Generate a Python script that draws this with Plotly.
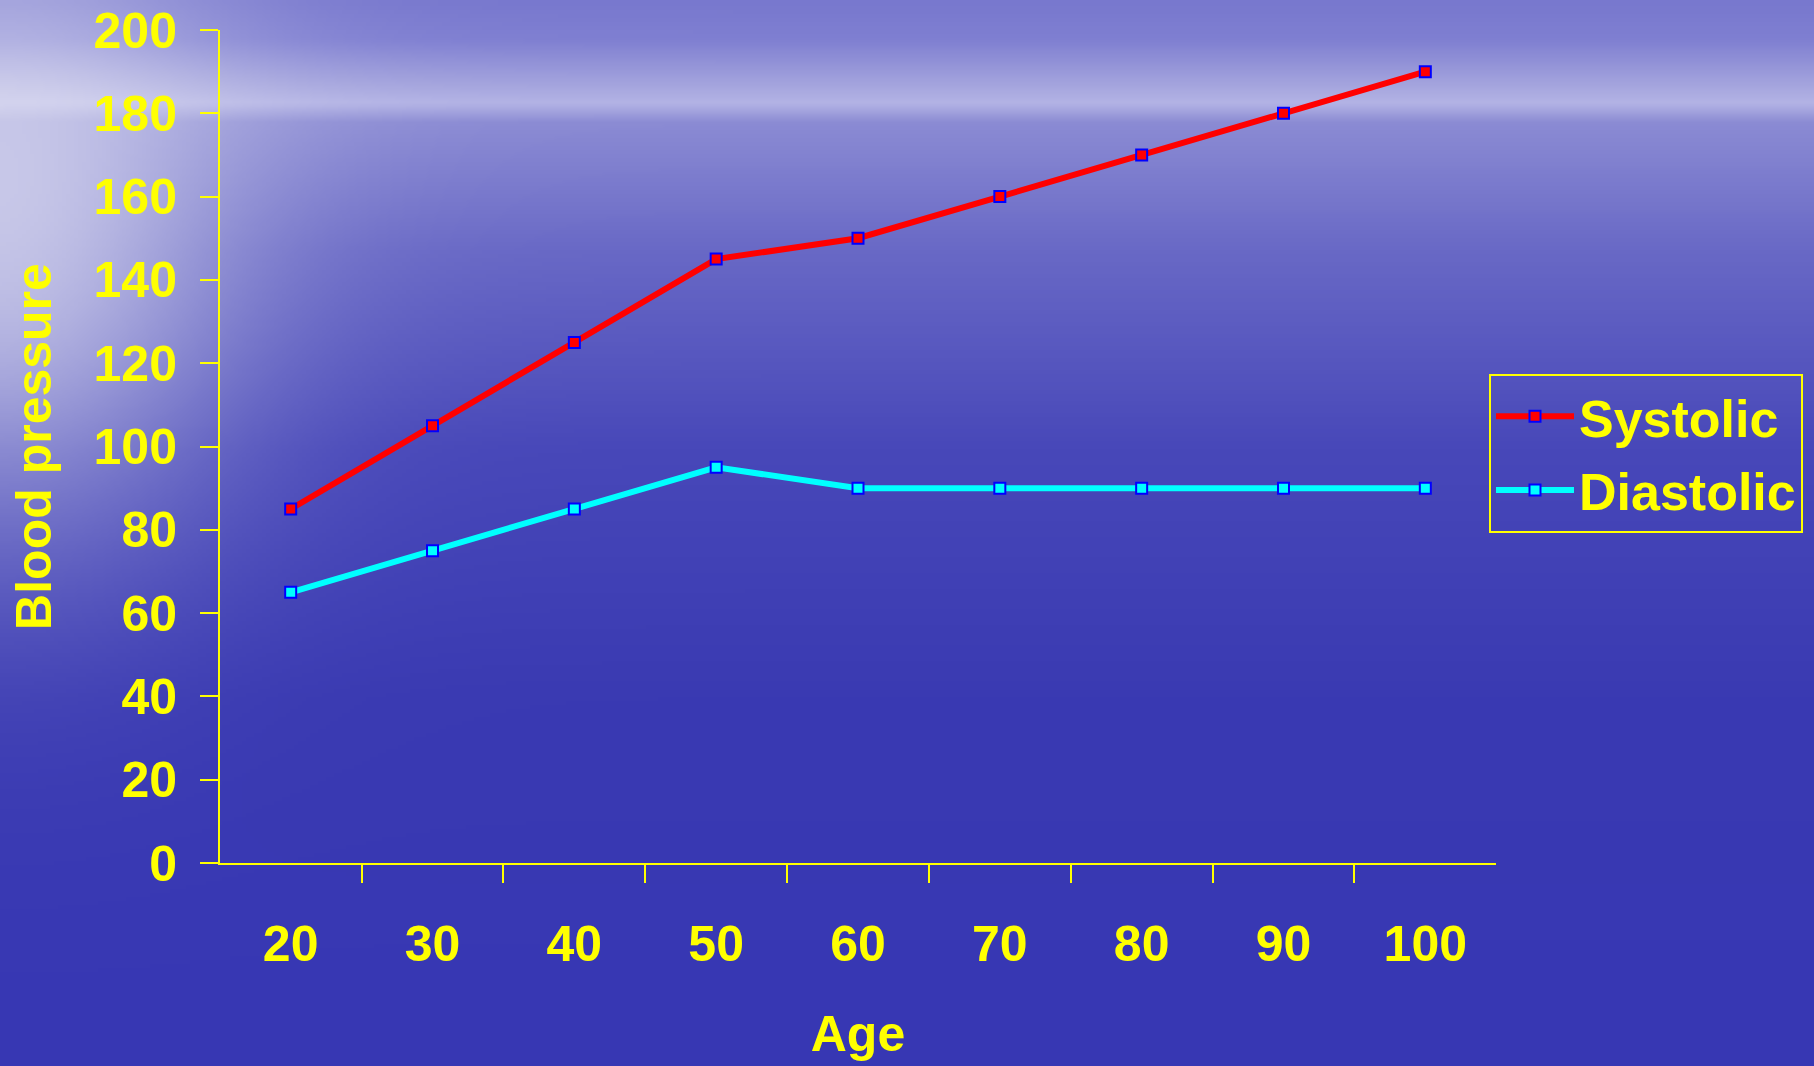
import base64, struct, zlib
import numpy as np
import plotly.graph_objects as go

# ---- data ----
ages = ["20", "30", "40", "50", "60", "70", "80", "90", "100"]
systolic = [85, 105, 125, 145, 150, 160, 170, 180, 190]
diastolic = [65, 75, 85, 95, 90, 90, 90, 90, 90]
y_ticks = [0, 20, 40, 60, 80, 100, 120, 140, 160, 180, 200]

W, H = 1814, 1066
L, R, T, B = 220, 318, 30, 203
PW, PH = W - L - R, H - T - B

# ---- background (decorative sky/sea gradient) ----
def make_bg(w=454, h=267):
    sy = H / h
    sx = W / w
    ys = (np.arange(h) + 0.5) * sy
    xs = (np.arange(w) + 0.5) * sx
    ky = [0, 40, 85, 103, 122, 250, 450, 700, 1066]
    kr = [120, 128, 165, 180, 140, 105, 72, 58, 55]
    kb = [206, 210, 222, 230, 212, 198, 185, 178, 180]
    r = np.interp(ys, ky, kr)[:, None] * np.ones((1, w))
    b = np.interp(ys, ky, kb)[:, None] * np.ones((1, w))
    X, Y = np.meshgrid(xs, ys)
    glow = np.exp(-(X / 240.0) ** 2 - ((Y - 230) / 300.0) ** 2)
    r = r + (235 - r) * 0.7 * glow
    b = b + (245 - b) * 0.7 * glow
    img = np.stack([r, r, b], axis=-1).clip(0, 255).astype(np.uint8)
    raw = b"".join(b"\x00" + img[i].tobytes() for i in range(h))

    def chunk(t, d):
        c = struct.pack(">I", len(d)) + t + d
        return c + struct.pack(">I", zlib.crc32(t + d) & 0xFFFFFFFF)

    png = b"\x89PNG\r\n\x1a\n" + chunk(b"IHDR", struct.pack(">IIBBBBB", w, h, 8, 2, 0, 0, 0))
    png += chunk(b"IDAT", zlib.compress(raw, 9)) + chunk(b"IEND", b"")
    return "data:image/png;base64," + base64.b64encode(png).decode()

YEL = "#ffff00"
FONT = "Liberation Sans, Arial, sans-serif"

fig = go.Figure()
fig.add_trace(go.Scatter(
    x=ages, y=systolic, name="Systolic", mode="lines+markers", legendgroup="s",
    line=dict(color="#ff0000", width=6),
    marker=dict(symbol="square", size=11, color="#ff0000", line=dict(color="#0000ff", width=2)),
))
fig.add_trace(go.Scatter(
    x=ages, y=diastolic, name="Diastolic", mode="lines+markers", legendgroup="d",
    line=dict(color="#00ffff", width=6),
    marker=dict(symbol="square", size=11, color="#00ffff", line=dict(color="#0000ff", width=2)),
))

fig.update_layout(
    width=W, height=H,
    margin=dict(l=L, r=R, t=T, b=B, autoexpand=False),
    paper_bgcolor="#3c3cb4",
    plot_bgcolor="rgba(0,0,0,0)",
    font=dict(family=FONT, color=YEL, size=50, weight="bold"),
    images=[dict(
        source=make_bg(), xref="paper", yref="paper",
        x=-L / PW, y=1 + T / PH, sizex=W / PW, sizey=H / PH,
        xanchor="left", yanchor="top", sizing="stretch", layer="below",
    )],
    xaxis=dict(
        type="category", tickson="boundaries", automargin=False,
        showline=True, linecolor=YEL, linewidth=2,
        ticks="outside", ticklen=18, tickcolor=YEL, tickwidth=2,
        showgrid=False, zeroline=False,
        tickfont=dict(size=50, color=YEL, family=FONT, weight="bold"),
        ticklabelstandoff=36,
        title=dict(text="Age", standoff=45,
                   font=dict(size=50, color=YEL, family=FONT, weight="bold")),
    ),
    yaxis=dict(
        range=[0, 200], tickvals=y_ticks, automargin=False,
        showline=True, linecolor=YEL, linewidth=2,
        ticks="outside", ticklen=18, tickcolor=YEL, tickwidth=2,
        showgrid=False, zeroline=False,
        tickfont=dict(size=50, color=YEL, family=FONT, weight="bold"),
        ticklabelstandoff=13,
        title=dict(text="Blood pressure", standoff=26,
                   font=dict(size=50, color=YEL, family=FONT, weight="bold")),
    ),
    legend=dict(
        x=(1489 - L) / PW, y=(863 - 374) / PH, xanchor="left", yanchor="top",
        bordercolor=YEL, borderwidth=2, bgcolor="rgba(0,0,0,0)",
        font=dict(size=52, color=YEL, family=FONT, weight="bold"),
        itemwidth=78, traceorder="grouped", tracegroupgap=3,
    ),
)

fig.write_html(
    "out.html",
    config={"displayModeBar": False},
    post_script="document.body.style.margin='0';document.body.style.overflow='hidden';",
)
